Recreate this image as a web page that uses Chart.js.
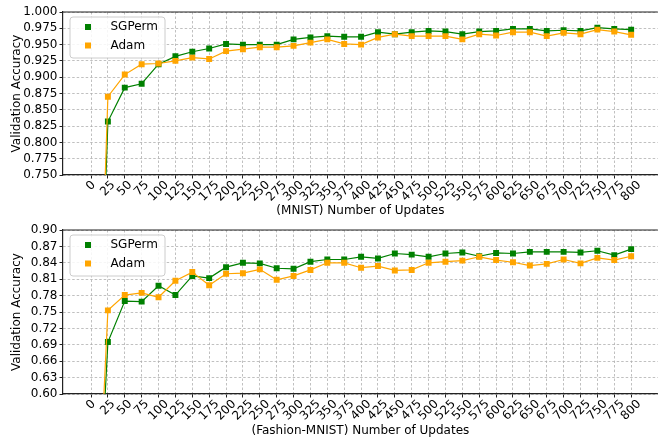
<!DOCTYPE html>
<html lang="en">
<head>
  <meta charset="UTF-8">
  <title>Validation Accuracy</title>
  <script src="https://cdn.jsdelivr.net/npm/chart.js"></script>
  <style>
    body {
      margin: 0;
      background: #fff;
    }
    #wrap {
      position: relative;
      width: 662px;
      height: 438px;
    }
    canvas {
      position: absolute;
      left: 0;
    }
    #topChart { top: 0; }
    #botChart { top: 220px; }
  </style>
</head>
<body>
  <div id="wrap">
    <canvas id="topChart" width="662" height="220"></canvas>
    <canvas id="botChart" width="662" height="218"></canvas>
  </div>

  <script>
    // number of updates (x values); the 0 point sits below the visible range
    const updates = [0, 25, 50, 75, 100, 125, 150, 175, 200, 225, 250, 275, 300, 325, 350, 375, 400,
                     425, 450, 475, 500, 525, 550, 575, 600, 625, 650, 675, 700, 725, 750, 775, 800];
    const xTickLabels = updates.map(String);

    // MNIST
    const mnistSGPerm = [0.10, 0.832, 0.884, 0.890, 0.920, 0.932, 0.939, 0.944, 0.951, 0.950, 0.950, 0.950, 0.958,
                         0.961, 0.963, 0.962, 0.962, 0.969, 0.966, 0.969, 0.971, 0.970, 0.966, 0.970, 0.971, 0.974,
                         0.974, 0.971, 0.972, 0.971, 0.976, 0.974, 0.973];
    const mnistAdam = [0.10, 0.870, 0.904, 0.920, 0.921, 0.925, 0.930, 0.928, 0.940, 0.943, 0.946, 0.946, 0.948,
                       0.953, 0.958, 0.951, 0.950, 0.961, 0.966, 0.963, 0.963, 0.963, 0.958, 0.966, 0.964, 0.969,
                       0.969, 0.963, 0.968, 0.966, 0.973, 0.970, 0.965];
    const mnistYTicks = [0.750, 0.775, 0.800, 0.825, 0.850, 0.875, 0.900, 0.925, 0.950, 0.975, 1.000];
    const mnistYLabels = ['0.750', '0.775', '0.800', '0.825', '0.850', '0.875', '0.900', '0.925', '0.950', '0.975', '1.000'];

    // Fashion-MNIST
    const fashionSGPerm = [0.10, 0.695, 0.770, 0.769, 0.798, 0.781, 0.816, 0.812, 0.832, 0.840, 0.839, 0.830, 0.829,
                           0.842, 0.846, 0.846, 0.851, 0.848, 0.857, 0.855, 0.851, 0.857, 0.859, 0.852, 0.858, 0.857,
                           0.860, 0.860, 0.860, 0.859, 0.862, 0.854, 0.865];
    const fashionAdam = [0.10, 0.753, 0.781, 0.785, 0.777, 0.807, 0.823, 0.799, 0.820, 0.821, 0.828, 0.809, 0.816,
                         0.827, 0.840, 0.840, 0.831, 0.834, 0.826, 0.827, 0.840, 0.842, 0.844, 0.851, 0.845, 0.841,
                         0.835, 0.838, 0.846, 0.839, 0.849, 0.845, 0.852];
    const fashionYTicks = [0.60, 0.63, 0.66, 0.69, 0.72, 0.75, 0.78, 0.81, 0.84, 0.87, 0.90];
    const fashionYLabels = ['0.60', '0.63', '0.66', '0.69', '0.72', '0.75', '0.78', '0.81', '0.84', '0.87', '0.90'];

    const seriesNames = ['SGPerm', 'Adam'];
    const seriesColors = ['#008000', '#ffa500'];

    const FONT = 'DejaVu Sans';

    // spine on top, legend box inside the axes, and centred rotated x labels (matplotlib style)
    const decor = {
      id: 'decor',
      afterDraw(chart) {
        const ctx = chart.ctx;
        const a = chart.chartArea;

        ctx.save();
        ctx.strokeStyle = '#222';
        ctx.lineWidth = 1.2;
        ctx.beginPath();
        ctx.moveTo(a.left, a.top);
        ctx.lineTo(a.right, a.top);
        ctx.stroke();

        // x tick labels
        const xs = chart.scales.x;
        ctx.font = '12px ' + FONT;
        ctx.fillStyle = '#000';
        ctx.textAlign = 'center';
        ctx.textBaseline = 'middle';
        xTickLabels.forEach((lab, i) => {
          const px = xs.getPixelForValue(updates[i]);
          const w = ctx.measureText(lab).width;
          const boxH = (w + 9) * Math.SQRT1_2;
          ctx.save();
          ctx.translate(px, a.bottom + 5 + boxH / 2);
          ctx.rotate(-Math.PI / 4);
          ctx.fillText(lab, 0, 0);
          ctx.restore();
        });

        // legend
        const lx = a.left + 7, ly = a.top + 5, lw = 95, lh = 41;
        ctx.beginPath();
        ctx.roundRect(lx, ly, lw, lh, 3);
        ctx.fillStyle = 'rgba(255,255,255,0.85)';
        ctx.fill();
        ctx.strokeStyle = '#cccccc';
        ctx.lineWidth = 1;
        ctx.stroke();
        seriesNames.forEach((name, i) => {
          const cy = ly + 10 + i * 18.5;
          ctx.fillStyle = seriesColors[i];
          ctx.fillRect(lx + 15, cy - 3, 6, 6);
          ctx.fillStyle = '#000';
          ctx.textAlign = 'left';
          ctx.fillText(name, lx + 40.5, cy);
        });
        ctx.restore();
      }
    };

    function makeChart(id, sg, adam, yTicks, yLabels, xTitle, padTop, xHeight, titleBottom) {
      const mk = (label, data, color, order) => ({
        label: label,
        data: data,
        borderColor: color,
        backgroundColor: color,
        borderWidth: 1.2,
        pointStyle: 'rect',
        pointRadius: 4.2,
        pointBorderWidth: 0,
        pointHoverRadius: 4.2,
        order: order
      });
      return new Chart(document.getElementById(id), {
        type: 'line',
        data: {
          labels: updates,
          datasets: [
            mk(seriesNames[0], sg, seriesColors[0], 1),
            mk(seriesNames[1], adam, seriesColors[1], 0)
          ]
        },
        plugins: [decor],
        options: {
          responsive: false,
          animation: false,
          devicePixelRatio: 1,
          layout: { padding: { top: padTop, right: 0, bottom: 0, left: 0 } },
          plugins: {
            legend: { display: false },
            tooltip: { enabled: false }
          },
          scales: {
            x: {
              type: 'linear',
              min: -41.5,
              max: 839.5,
              afterBuildTicks: s => { s.ticks = updates.map(v => ({ value: v })); },
              afterFit: s => { s.height = xHeight; },
              ticks: { display: false, autoSkip: false },
              grid: {
                color: '#b0b0b0',
                lineWidth: 0.8,
                tickLength: 3.5,
                tickColor: '#222',
                tickWidth: 1,
                tickBorderDash: []
              },
              border: { color: '#222', width: 1.2, dash: [2.5, 2] },
              title: {
                display: true,
                text: xTitle,
                color: '#000',
                font: { family: FONT, size: 12 },
                padding: { top: 0, bottom: titleBottom }
              }
            },
            y: {
              min: yTicks[0],
              max: yTicks[yTicks.length - 1],
              afterBuildTicks: s => { s.ticks = yTicks.map(v => ({ value: v })); },
              afterFit: s => { s.width = 63; },
              ticks: {
                color: '#000',
                padding: 2,
                autoSkip: false,
                font: { family: FONT, size: 12 },
                callback: (v, i) => yLabels[i]
              },
              grid: {
                color: '#b0b0b0',
                lineWidth: 0.8,
                tickLength: 3.5,
                tickColor: '#222',
                tickWidth: 1,
                tickBorderDash: []
              },
              border: { color: '#222', width: 1.2, dash: [2.5, 2] },
              title: {
                display: true,
                text: 'Validation Accuracy',
                color: '#000',
                font: { family: FONT, size: 12 },
                padding: { top: 9.5, bottom: 0 }
              }
            }
          }
        }
      });
    }

    makeChart('topChart', mnistSGPerm, mnistAdam, mnistYTicks, mnistYLabels,
              '(MNIST) Number of Updates', 12, 45, 2);
    makeChart('botChart', fashionSGPerm, fashionAdam, fashionYTicks, fashionYLabels,
              '(Fashion-MNIST) Number of Updates', 10, 44, 0);
  </script>
</body>
</html>
